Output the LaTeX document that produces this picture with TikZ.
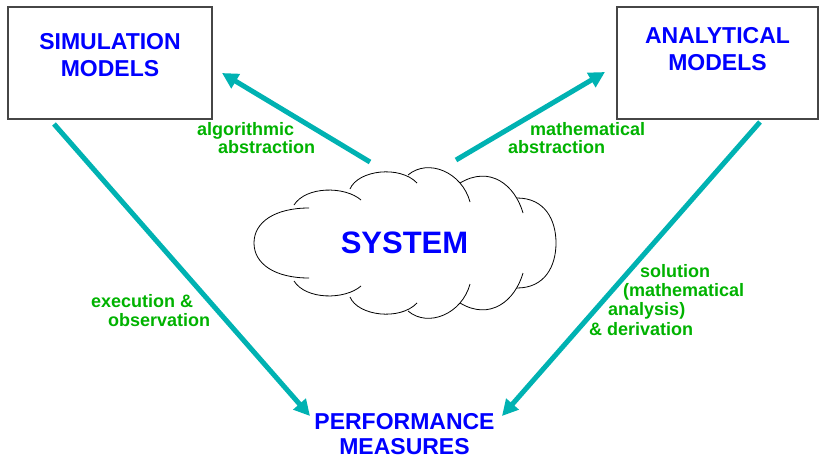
\documentclass[tikz,border=0pt]{standalone}
\usepackage{fontspec}
\setmainfont{Liberation Sans}
\usetikzlibrary{arrows.meta}
\definecolor{tealarrow}{RGB}{0,178,178}
\definecolor{lblgreen}{RGB}{0,178,0}
\definecolor{ttlblue}{RGB}{0,0,255}
\definecolor{boxgray}{RGB}{70,70,70}
\tikzset{
  modelbox/.style={draw=boxgray, line width=1.1pt},
  title/.style={text=ttlblue, font=\bfseries\fontsize{23}{26.5}\selectfont, align=center, inner sep=0pt, anchor=north},
  lbl/.style={text=lblgreen, font=\bfseries\fontsize{18}{18}\selectfont, align=left, inner sep=0pt, anchor=north west},
  flow/.style={draw=tealarrow, line width=5pt, -{Triangle[length=16pt,width=16pt]}},
  cloudline/.style={draw=black, line width=0.8pt}
}
\begin{document}
\begin{tikzpicture}[x=1pt,y=-1pt]
\useasboundingbox (0,0) rectangle (819,458);
% boxes
\draw[modelbox] (8,7) rectangle (212,119);
\draw[modelbox] (617,7) rectangle (818,119);
\node[title] (sim) at (110,33.5) {SIMULATION\\MODELS};
\node[title] (ana) at (717.5,27.5) {ANALYTICAL\\MODELS};
\node[title, font=\bfseries\fontsize{23}{25}\selectfont] (perf) at (404.5,413) {PERFORMANCE\\MEASURES};
% cloud (top half and mirrored bottom half)
\begin{scope}[cloudline]
\draw (309,208) .. controls (275,208) and (254,222) .. (254,243) .. controls (254,264) and (275,278) .. (309,278);
\draw (294,205) .. controls (306,186) and (345,186) .. (361,200);
\draw (350,189) .. controls (358,170) and (400,165) .. (417,183);
\draw (408,175) .. controls (428,158) and (462,172) .. (470,202);
\draw (460,183) .. controls (490,165) and (515,185) .. (523,213);
\draw (517,198) .. controls (545,198) and (556,220) .. (556,243) .. controls (556,266) and (545,288) .. (517,288);
\draw (294,281) .. controls (306,300) and (345,300) .. (361,286);
\draw (350,297) .. controls (358,316) and (400,321) .. (417,303);
\draw (408,311) .. controls (428,328) and (462,314) .. (470,284);
\draw (460,303) .. controls (490,321) and (515,301) .. (523,273);
\end{scope}
\node[text=ttlblue, font=\bfseries\fontsize{31}{31}\selectfont, inner sep=0pt, anchor=north] (sys) at (404.5,232) {SYSTEM};
% arrow end points
\coordinate (a1s) at (370,162); \coordinate (a1e) at (222,73);
\coordinate (a2s) at (456,160); \coordinate (a2e) at (605,72);
\coordinate (a3s) at (54,124);  \coordinate (a3e) at (310,416);
\coordinate (a4s) at (760,122); \coordinate (a4e) at (502,416);
\draw[flow] (a1s) -- (a1e);
\draw[flow] (a2s) -- (a2e);
\draw[flow] (a3s) -- (a3e);
\draw[flow] (a4s) -- (a4e);
% labels
\node[lbl] (l1) at (197,122) {algorithmic\\\hspace*{21pt}abstraction};
\node[lbl] (l2) at (508,122) {\hspace*{22pt}mathematical\\abstraction};
\node[lbl, font=\bfseries\fontsize{18}{19}\selectfont] (l3) at (91,294) {execution \&\\\hspace*{17pt}observation};
\node[lbl, font=\bfseries\fontsize{18}{19.3}\selectfont] (l4) at (589,264) {\hspace*{51pt}solution\\\hspace*{34pt}(mathematical\\\hspace*{19pt}analysis)\\\& derivation};
\end{tikzpicture}
\end{document}
